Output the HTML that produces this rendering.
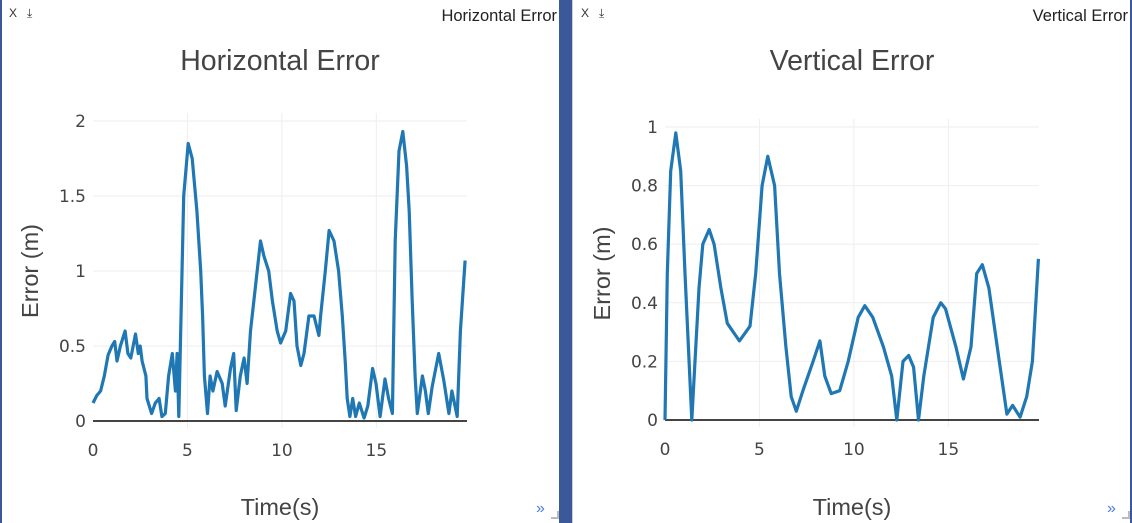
<!DOCTYPE html>
<html><head><meta charset="utf-8"><style>
html,body{margin:0;padding:0;width:1132px;height:523px;overflow:hidden;background:#fff;font-family:"Liberation Sans",sans-serif}
svg text{font-family:"Liberation Sans",sans-serif}
svg text.tick{font-family:"DejaVu Sans",sans-serif}
</style></head><body>
<svg id="s" width="1132" height="523" xmlns="http://www.w3.org/2000/svg">
<rect x="0" y="0" width="1132" height="523" fill="#fff"/>
<rect x="0" y="0" width="2" height="523" fill="#3b5998"/>
<rect x="559" y="0" width="13" height="523" fill="#3b5998"/>
<rect x="572" y="0" width="1" height="523" fill="#d0d0d0"/>
<rect x="1130" y="0" width="2" height="523" fill="#3b5998"/>
<g id="p1"></g>
<g id="p2"></g>
</svg>
<script>
const hTimes=[0,0.2,0.4,0.6,0.8,1.0,1.15,1.27,1.45,1.7,1.85,2.0,2.25,2.4,2.5,2.6,2.8,2.86,3.1,3.3,3.5,3.65,3.83,4.0,4.2,4.36,4.45,4.54,4.8,5.04,5.25,5.5,5.7,5.8,5.9,6.06,6.2,6.35,6.57,6.84,7.0,7.28,7.45,7.58,7.8,8.0,8.16,8.34,8.87,9.05,9.3,9.5,9.75,9.93,10.2,10.46,10.64,10.8,11.0,11.17,11.43,11.7,11.96,12.05,12.3,12.5,12.76,13.0,13.2,13.35,13.46,13.6,13.75,13.9,14.1,14.35,14.55,14.8,14.98,15.2,15.46,15.65,15.85,16.0,16.2,16.4,16.6,16.74,16.9,17.05,17.17,17.44,17.6,17.75,17.96,18.3,18.57,18.84,19.0,19.28,19.45,19.7];
const hErr=[0.12,0.17,0.2,0.3,0.44,0.5,0.53,0.4,0.5,0.6,0.45,0.42,0.58,0.45,0.5,0.4,0.3,0.15,0.05,0.12,0.15,0.03,0.05,0.3,0.45,0.2,0.45,0.03,1.5,1.85,1.75,1.4,1.0,0.7,0.3,0.05,0.3,0.2,0.33,0.25,0.1,0.35,0.45,0.07,0.3,0.42,0.25,0.6,1.2,1.1,1.0,0.8,0.6,0.52,0.6,0.85,0.8,0.5,0.37,0.45,0.7,0.7,0.57,0.7,1.0,1.27,1.2,1.0,0.7,0.4,0.15,0.03,0.15,0.03,0.12,0.02,0.1,0.35,0.25,0.03,0.28,0.15,0.05,1.2,1.8,1.93,1.7,1.4,0.8,0.3,0.05,0.3,0.2,0.05,0.23,0.45,0.27,0.05,0.2,0.03,0.6,1.07];
const vTimes=[0,0.12,0.3,0.57,0.83,1.06,1.42,1.8,2.0,2.34,2.6,2.96,3.3,3.94,4.5,4.8,5.14,5.44,5.8,6.06,6.4,6.68,6.95,7.3,7.84,8.2,8.46,8.8,9.25,9.7,10.23,10.58,11.0,11.56,12.0,12.27,12.6,12.9,13.16,13.42,13.7,14.2,14.6,14.85,15.4,15.8,16.2,16.5,16.8,17.15,17.7,18.1,18.4,18.8,19.15,19.45,19.77];
const vErr=[0,0.5,0.85,0.98,0.85,0.5,0,0.45,0.6,0.65,0.6,0.45,0.33,0.27,0.32,0.5,0.8,0.9,0.8,0.5,0.25,0.08,0.03,0.1,0.2,0.27,0.15,0.09,0.1,0.2,0.35,0.39,0.35,0.25,0.15,0,0.2,0.22,0.18,0,0.15,0.35,0.4,0.38,0.25,0.14,0.25,0.5,0.53,0.45,0.2,0.02,0.05,0.01,0.08,0.2,0.55];
const hYTicks=[0,0.5,1,1.5,2], hYLabels=["0","0.5","1","1.5","2"];
const vYTicks=[0,0.2,0.4,0.6,0.8,1], vYLabels=["0","0.2","0.4","0.6","0.8","1"];
const xTicks=[0,5,10,15], xLabels=["0","5","10","15"];
const NS="http://www.w3.org/2000/svg";
function mk(p,tag,a){const e=document.createElementNS(NS,tag);for(const k in a)e.setAttribute(k,a[k]);p.appendChild(e);return e;}
function panel(g,cfg){
  const sx=t=>cfg.x0+(t/19.8)*(cfg.x1-cfg.x0);
  const sy=v=>cfg.y0-(v/cfg.ymax)*(cfg.y0-cfg.yTop);
  let t=mk(g,'text',{x:cfg.left+9,y:17,'font-size':12,fill:'#333'});t.textContent='X';
  
  
  t=mk(g,'text',{x:cfg.left+27,y:17,'font-size':12,fill:'#333'});t.textContent='⤓';
  
  
  t=mk(g,'text',{x:cfg.right-2,y:21,'font-size':16.5,fill:'#222','text-anchor':'end'});t.textContent=cfg.title;
  
  
  t=mk(g,'text',{x:cfg.titleX,y:70,'font-size':28.5,fill:'#444','text-anchor':'middle'});t.textContent=cfg.title;
  
  
  cfg.yt.forEach((v,i)=>{
    if(v>0){const l=mk(g,'line',{x1:cfg.x0,x2:cfg.x1,y1:sy(v),y2:sy(v),stroke:'#eee','stroke-width':1});
    
    }
    const tx=mk(g,'text',{class:'tick',x:cfg.x0-7,y:sy(v)+6,'font-size':17,fill:'#444','text-anchor':'end'});tx.textContent=cfg.yl[i];
    
    
  });
  xTicks.forEach((v,i)=>{
    if(v>0){const l=mk(g,'line',{x1:sx(v),x2:sx(v),y1:cfg.yTop-8,y2:cfg.y0+7,stroke:'#eee','stroke-width':1});
    
    }
    const tx=mk(g,'text',{class:'tick',x:sx(v),y:cfg.y0+35,'font-size':17,fill:'#444','text-anchor':'middle'});tx.textContent=xLabels[i];
    
    
  });
  const z=mk(g,'line',{x1:cfg.x0,x2:cfg.x1,y1:cfg.y0,y2:cfg.y0,stroke:'#444','stroke-width':2});
  
  
  const d=cfg.tt.map((tv,i)=>(i?'L':'M')+sx(tv).toFixed(1)+','+sy(cfg.vv[i]).toFixed(1)).join('');
  const p=mk(g,'path',{d:d,fill:'none',stroke:'#1f77b4','stroke-width':3.2,'stroke-linejoin':'round'});
  
  
  t=mk(g,'text',{x:0,y:0,'font-size':23.5,fill:'#444','text-anchor':'middle',transform:`translate(${cfg.left+38},${(cfg.y0+cfg.yTop)/2}) rotate(-90)`});t.textContent='Error (m)';
  
  
  t=mk(g,'text',{x:(cfg.x0+cfg.x1)/2,y:515,'font-size':23.5,fill:'#444','text-anchor':'middle'});t.textContent='Time(s)';
  
  
  t=mk(g,'text',{x:cfg.right-23,y:513,'font-size':16,fill:'#4a7fe0'});t.textContent='»';
  
  
  const r=mk(g,'path',{d:`M${cfg.right-8},518 L${cfg.right-1},518 L${cfg.right-1},511`,fill:'none',stroke:'#bbb','stroke-width':2});
  
  
}
panel(document.getElementById('p1'),{left:0,right:559,x0:93,x1:467,y0:421,yTop:121,ymax:2,title:'Horizontal Error',titleX:280,yt:hYTicks,yl:hYLabels,tt:hTimes,vv:hErr});
panel(document.getElementById('p2'),{left:572,right:1130,x0:665,x1:1039,y0:420,yTop:127,ymax:1,title:'Vertical Error',titleX:852,yt:vYTicks,yl:vYLabels,tt:vTimes,vv:vErr});
</script>
</body></html>
